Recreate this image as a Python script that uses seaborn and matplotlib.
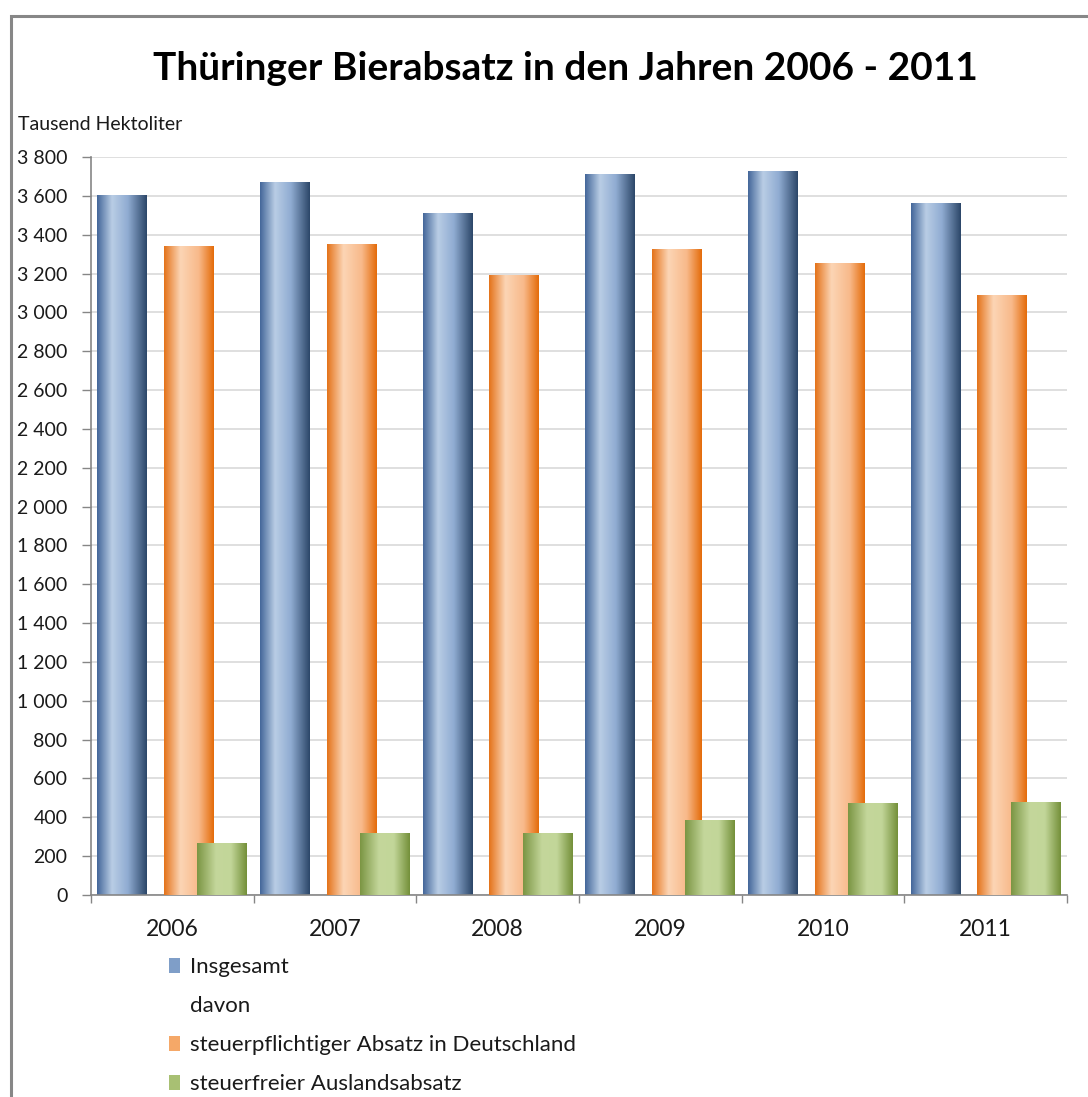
import matplotlib
matplotlib.use('Agg')
import matplotlib.pyplot as plt
import matplotlib.patches as mpatches
from matplotlib.colors import LinearSegmentedColormap
from matplotlib.ticker import FuncFormatter, MultipleLocator, FixedLocator
import numpy as np
import pandas as pd
import seaborn as sns

# Daten (Tausend Hektoliter)
jahre = ['2006', '2007', '2008', '2009', '2010', '2011']
insgesamt = [3603, 3670, 3507, 3712, 3726, 3563]
steuerpflichtig = [3338, 3350, 3188, 3325, 3253, 3088]
steuerfrei = [266, 319, 316, 384, 470, 477]
serien = ['Insgesamt', 'steuerpflichtiger Absatz in Deutschland',
          'steuerfreier Auslandsabsatz']

df = pd.DataFrame({
    'Jahr': jahre * 3,
    'Serie': np.repeat(serien, len(jahre)),
    'Wert': insgesamt + steuerpflichtig + steuerfrei,
})

# Excel-artige Farbverlaeufe je Serie
verlaeufe = [
    [(0.0, '#44679a'), (0.30, '#b9cde5'), (0.62, '#90acd2'), (1.0, '#2c4769')],
    [(0.0, '#e4731a'), (0.33, '#fcd5b5'), (0.70, '#f8b98a'), (1.0, '#e46c0a')],
    [(0.0, '#7b9543'), (0.38, '#c4d79b'), (0.68, '#c2d699'), (1.0, '#74903a')],
]
mittelfarben = ['#7f9ec8', '#f5a868', '#a8c073']
versatz = [-0.309, 0.101, 0.306]
breite = 0.305

sns.set_style('white')
plt.rcParams['font.family'] = ['Lato', 'DejaVu Sans']

fig = plt.figure(figsize=(10.88, 10.97), dpi=100)
ax = fig.add_axes([91 / 1088, 202 / 1097, 976 / 1088, 738 / 1097])

sns.barplot(data=df, x='Jahr', y='Wert', hue='Serie', hue_order=serien,
            order=jahre, ax=ax, dodge=True, saturation=1, legend=False,
            palette=mittelfarben, errorbar=None)

for k, cont in enumerate(ax.containers):
    cmap = LinearSegmentedColormap.from_list(f'g{k}', verlaeufe[k])
    grad = cmap(np.linspace(0, 1, 128))[np.newaxis, :, :]
    for i, bar in enumerate(cont):
        x0 = i + versatz[k] - breite / 2
        bar.set_x(x0)
        bar.set_width(breite)
        bar.set_zorder(2 + k)
        bar.set_edgecolor('none')
        h = bar.get_height()
        ax.imshow(grad, extent=[x0, x0 + breite, 0, h], aspect='auto',
                  interpolation='bilinear', zorder=2.5 + k)

ax.set_xlim(-0.5, len(jahre) - 0.5)
ax.set_ylim(0, 3800)

# Achsen
ax.yaxis.set_major_locator(MultipleLocator(200))
ax.yaxis.set_major_formatter(FuncFormatter(lambda v, p: f'{int(v):,}'.replace(',', ' ')))
ax.yaxis.grid(True, color='#d9d9d9', linewidth=1.2)
ax.xaxis.grid(False)
ax.set_axisbelow(True)
for s in ['top', 'right']:
    ax.spines[s].set_visible(False)
for s in ['left', 'bottom']:
    ax.spines[s].set_color('#868686')
    ax.spines[s].set_linewidth(1.2)

ax.tick_params(axis='y', which='major', length=6.5, width=1, color='#868686',
               labelsize=14, pad=10.5, labelcolor='#1a1a1a', direction='out', left=True)
ax.xaxis.set_minor_locator(FixedLocator(np.arange(-0.5, len(jahre), 1.0)))
ax.tick_params(axis='x', which='major', length=0, labelsize=16.5, pad=17,
               labelcolor='#1a1a1a')
ax.tick_params(axis='x', which='minor', length=6, width=1, color='#868686',
               direction='out', bottom=True)
ax.set_xlabel('')
ax.set_ylabel('')

# Texte
fig.text(565 / 1088, 1 - 68 / 1097, 'Thüringer Bierabsatz in den Jahren 2006 - 2011',
         ha='center', va='center', fontsize=28, fontweight='bold', color='black')
fig.text(18 / 1088, 1 - 125 / 1097, 'Tausend Hektoliter', ha='left', va='center',
         fontsize=14, color='#1a1a1a')

# Legende
handles = [
    mpatches.Patch(facecolor=mittelfarben[0], edgecolor='none'),
    mpatches.Patch(facecolor='none', edgecolor='none'),
    mpatches.Patch(facecolor=mittelfarben[1], edgecolor='none'),
    mpatches.Patch(facecolor=mittelfarben[2], edgecolor='none'),
]
labels = ['Insgesamt', 'davon', serien[1], serien[2]]
fig.legend(handles, labels, loc='upper left', bbox_to_anchor=(169 / 1088, 1 - 957 / 1097),
           frameon=False, fontsize=16, handlelength=0.5, handleheight=0.65,
           handletextpad=0.45, labelspacing=0.86, borderpad=0, borderaxespad=0,
           labelcolor='#1a1a1a')

# Rahmen um das Diagramm
fig.patches.append(mpatches.Rectangle((10.5 / 1088, -0.1), 1.2, 1.1 - 16 / 1097,
                                      transform=fig.transFigure, fill=False,
                                      edgecolor='#878787', linewidth=2.2))

fig.savefig('out.png', dpi=100)
